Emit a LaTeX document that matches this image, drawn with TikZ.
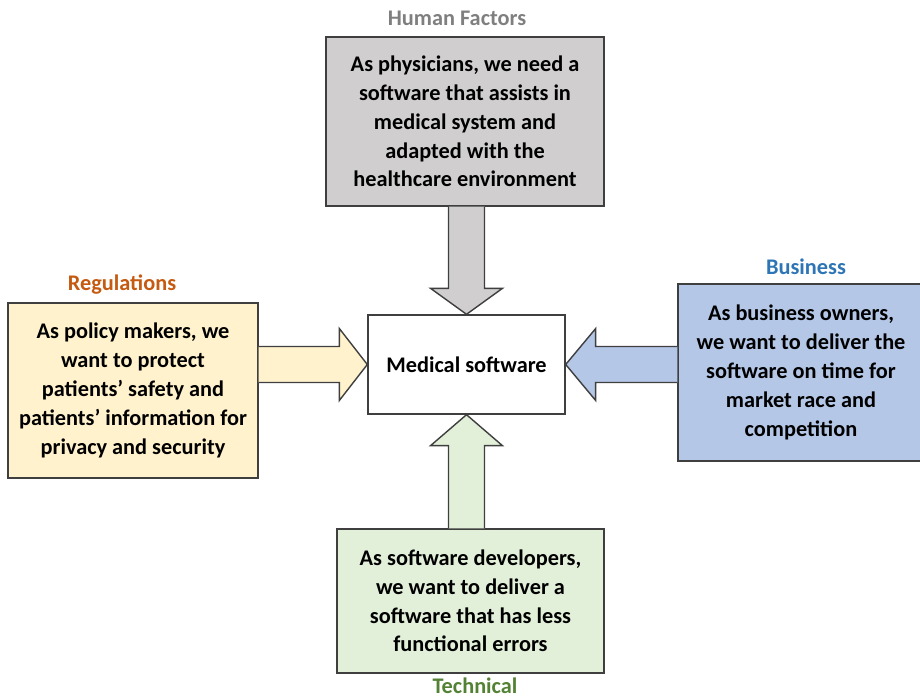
\documentclass[tikz,border=0pt]{standalone}
\usepackage{fontspec}
\setmainfont{Carlito}
\usepackage{tikz}
\usetikzlibrary{calc}

\definecolor{hfgray}{HTML}{D0CECE}
\definecolor{reqyellow}{HTML}{FFF2CC}
\definecolor{busblue}{HTML}{B4C7E7}
\definecolor{techgreen}{HTML}{E2F0D9}
\definecolor{edgegray}{HTML}{3F3F3F}
\definecolor{hftext}{HTML}{7F7F7F}
\definecolor{regtext}{HTML}{C55A11}
\definecolor{bustext}{HTML}{2E75B6}
\definecolor{techtext}{HTML}{548235}

\tikzset{
  box/.style={draw=edgegray, line width=0.8pt, align=center, inner sep=2pt,
    font=\fontsize{12.7}{16.4}\selectfont\bfseries},
  head/.style={font=\fontsize{12.7}{16.4}\selectfont\bfseries},
  barrow/.style={draw=edgegray, line width=0.8pt, line join=miter}
}

\begin{document}
\begin{tikzpicture}[x=0.02cm, y=0.02cm]
        \useasboundingbox (0,0) rectangle (920,-700);

        \node[box, fill=hfgray, minimum width=5.56cm, minimum height=3.38cm] (hf) at (465,-121.5)
          {As physicians, we need a\\ software that assists in\\ medical system and\\ adapted with the\\ healthcare environment};
        \node[box, fill=white, minimum width=3.94cm, minimum height=1.98cm] (med) at (466.5,-364.5) {Medical software};
        \node[box, fill=reqyellow, minimum width=5cm, minimum height=3.5cm] (reg) at (133,-390.5)
          {As policy makers, we\\ want to protect\\ patients’ safety and\\ patients’ information for\\ privacy and security};
        \node[box, fill=busblue, minimum width=4.92cm, minimum height=3.54cm] (bus) at (801,-372.5)
          {As business owners,\\ we want to deliver the\\ software on time for\\ market race and\\ competition};
        \node[box, fill=techgreen, minimum width=5.34cm, minimum height=2.88cm] (tech) at (470.5,-601)
          {As software developers,\\ we want to deliver a\\ software that has less\\ functional errors};

        \node[head, text=hftext] (hfl) at (457,-18) {Human Factors};
        \node[head, text=regtext] (regl) at (122,-285) {Regulations};
        \node[head, text=bustext] (busl) at (806,-267) {Business};
        \node[head, text=techtext] (techl) at (475,-686) {Technical};

        % block arrows into the centre box
        \draw[barrow, fill=hfgray] ($(med.north |- hf.south)+(-18,0)$) -- ($(med.north)+(-18,26)$)
          -- ($(med.north)+(-36,26)$) -- (med.north) -- ($(med.north)+(36,26)$)
          -- ($(med.north)+(18,26)$) -- ($(med.north |- hf.south)+(18,0)$);
        \draw[barrow, fill=techgreen] ($(med.south |- tech.north)+(-18,0)$) -- ($(med.south)+(-18,-31)$)
          -- ($(med.south)+(-36,-31)$) -- (med.south) -- ($(med.south)+(36,-31)$)
          -- ($(med.south)+(18,-31)$) -- ($(med.south |- tech.north)+(18,0)$);
        \draw[barrow, fill=reqyellow] ($(reg.east |- med.west)+(0,18)$) -- ($(med.west)+(-28,18)$)
          -- ($(med.west)+(-28,36)$) -- (med.west) -- ($(med.west)+(-28,-36)$)
          -- ($(med.west)+(-28,-18)$) -- ($(reg.east |- med.west)+(0,-18)$);
        \draw[barrow, fill=busblue] ($(bus.west |- med.east)+(0,18)$) -- ($(med.east)+(30,18)$)
          -- ($(med.east)+(30,36)$) -- (med.east) -- ($(med.east)+(30,-36)$)
          -- ($(med.east)+(30,-18)$) -- ($(bus.west |- med.east)+(0,-18)$);

      \end{tikzpicture}
\end{document}
